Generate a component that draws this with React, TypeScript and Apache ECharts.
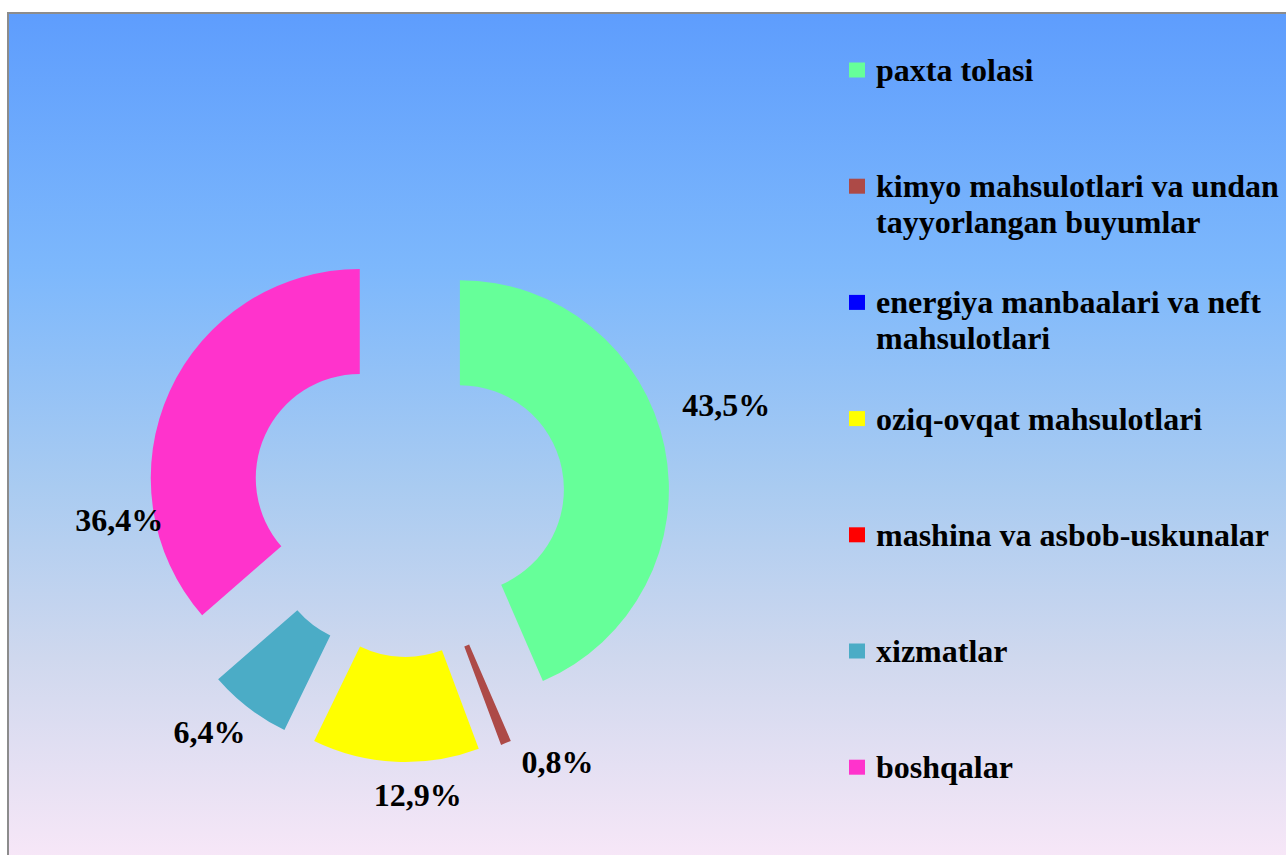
import React, { useEffect, useRef } from "react";
import * as echarts from "echarts";

const categories = [
  "paxta tolasi",
  "kimyo mahsulotlari va undan\ntayyorlangan buyumlar",
  "energiya manbaalari va neft\nmahsulotlari",
  "oziq-ovqat mahsulotlari",
  "mashina va asbob-uskunalar",
  "xizmatlar",
  "boshqalar",
];
const shares = [43.5, 0.8, 0, 12.9, 0, 6.4, 36.4];
const colors = ["#66ff99", "#ad4a47", "#0000ff", "#ffff00", "#ff0000", "#4bacc6", "#ff33cc"];

const FONT = '"Liberation Serif", "Times New Roman", serif';
const LH = 36;

// manual nudges of the percentage labels (as dragged in the original chart)
const LABEL_NUDGE: Record<number, [number, number]> = {
  0: [-7, -38],
  1: [3, 0],
  3: [72, 13],
  5: [14, 8],
  6: [17, 137],
};

export default function App() {
  const ref = useRef<HTMLDivElement>(null);
  useEffect(() => {
    if (!ref.current) return;
    const chart = echarts.init(ref.current, undefined, { renderer: "svg" });
    const option = {
      animation: false,
      graphic: [
        {
          type: "rect",
          z: -10,
          silent: true,
          shape: { x: 8, y: 13, width: 1300, height: 860 },
          style: {
            fill: new echarts.graphic.LinearGradient(0, 0, 0, 1, [
              { offset: 0, color: "#5e9dfd" },
              { offset: 0.3, color: "#7db8fc" },
              { offset: 0.55, color: "#a9cbf1" },
              { offset: 0.75, color: "#cfd8ee" },
              { offset: 1, color: "#fae8f8" },
            ]),
            stroke: "#8c8c8c",
            lineWidth: 2,
          },
        },
      ],
      legend: {
        orient: "vertical",
        left: 849,
        top: 70 - 1.5 * LH,
        padding: 0,
        itemGap: 116.2 - 3 * LH,
        itemWidth: 16,
        itemHeight: 15,
        icon: "rect",
        selectedMode: false,
        formatter: (name: string) => (name.includes("\n") ? "\n" + name : name),
        textStyle: {
          fontFamily: FONT,
          fontWeight: "bold",
          fontSize: 32,
          lineHeight: LH,
          color: "#000",
        },
        data: categories.map((name) => ({
          name,
          textStyle: {
            padding: name.includes("\n") ? [0, 0, 0, 6] : [LH, 0, LH, 6],
          },
        })),
      },
      series: [
        {
          type: "pie",
          center: [408, 500],
          radius: [104, 209],
          startAngle: 90,
          clockwise: true,
          selectedMode: "multiple",
          selectedOffset: 53,
          avoidLabelOverlap: false,
          minShowLabelAngle: 1,
          emphasis: { disabled: true },
          label: {
            show: true,
            position: "outside",
            formatter: (p: any) => `${Number(p.value).toFixed(1).replace(".", ",")}%`,
            fontFamily: FONT,
            fontWeight: "bold",
            fontSize: 32,
            color: "#000",
          },
          labelLine: { show: false, length: 20, length2: 0 },
          labelLayout: (params: any) => {
            const n = LABEL_NUDGE[params.dataIndex];
            return n ? { dx: n[0], dy: n[1] } : {};
          },
          data: categories.map((name, i) => ({
            name,
            value: shares[i],
            selected: true,
            itemStyle: { color: colors[i] },
          })),
        },
      ],
    };
    chart.setOption(option as any);
    return () => chart.dispose();
  }, []);
  return (
    <div
      ref={ref}
      style={{ position: "absolute", left: 0, top: 0, width: 1286, height: 855, background: "#fff" }}
    />
  );
}
